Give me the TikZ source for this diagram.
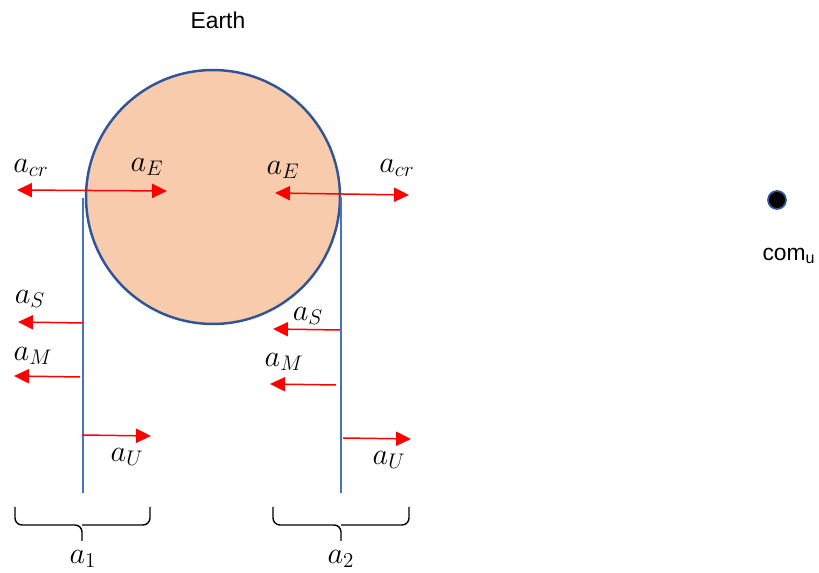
\documentclass[tikz,border=0pt]{standalone}
\usepackage{fontspec}
\setmainfont{Liberation Sans}
\usetikzlibrary{arrows.meta}
\definecolor{redarr}{HTML}{FF0000}
\definecolor{vline}{HTML}{4472C4}
\definecolor{edge}{HTML}{2F5597}
\definecolor{peach}{HTML}{F8CBAD}
\tikzset{
  acc/.style={draw=redarr, line width=0.85pt, -{Triangle[length=8.5pt,width=8pt]}},
  dacc/.style={draw=redarr, line width=0.85pt, {Triangle[length=8.5pt,width=8pt]}-{Triangle[length=8.5pt,width=8pt]}},
  mlab/.style={inner sep=0pt, font=\fontsize{17}{20}\selectfont},
  slab/.style={inner sep=0pt, font=\fontsize{13}{16}\selectfont},
  vl/.style={draw=vline, line width=0.65pt},
  brc/.style={draw=black, line width=0.8pt, rounded corners=4pt}
}
\begin{document}
\begin{tikzpicture}[x=0.02cm, y=-0.02cm]
\useasboundingbox (0,0) rectangle (819,573);
% Earth
\node[circle, draw=edge, fill=peach, line width=1.4pt, minimum size=5.08cm, inner sep=0pt] (earth) at (213,197) {};
\node[slab] (earthlab) at (218,20) {Earth};
% centre of mass
\node[circle, draw=edge, fill=black, line width=1pt, minimum size=0.36cm, inner sep=0pt] (comu) at (777,200) {};
\node[slab] (comlab) at (789,256) {com\textsubscript{u}};
% vertical lines
\coordinate (l1t) at (83,198); \coordinate (l1b) at (83,493);
\coordinate (l2t) at (341,197); \coordinate (l2b) at (341,493);
\draw[vl] (l1t) -- (l1b);
\draw[vl] (l2t) -- (l2b);
% top double arrows
\coordinate (la) at (17,190); \coordinate (lb) at (167,191);
\coordinate (ra) at (275,193); \coordinate (rb) at (409,195);
\draw[dacc] (la) -- (lb);
\draw[dacc] (ra) -- (rb);
\node[mlab] (acr1) at (31,168) {$a_{cr}$};
\node[mlab] (ae1) at (147,167) {$a_E$};
\node[mlab] (ae2) at (283,170) {$a_E$};
\node[mlab] (acr2) at (397,168) {$a_{cr}$};
% left column arrows
\coordinate (s1a) at (83,323); \coordinate (s1b) at (18,322);
\coordinate (m1a) at (80,377); \coordinate (m1b) at (14,376);
\coordinate (u1a) at (82,435); \coordinate (u1b) at (151,436);
\draw[acc] (s1a) -- (s1b);
\draw[acc] (m1a) -- (m1b);
\draw[acc] (u1a) -- (u1b);
\node[mlab] (as1) at (30,299) {$a_S$};
\node[mlab] (am1) at (33,356) {$a_M$};
\node[mlab] (au1) at (127,457) {$a_U$};
% right column arrows
\coordinate (s2a) at (340,330); \coordinate (s2b) at (273,329);
\coordinate (m2a) at (336,385); \coordinate (m2b) at (270,384);
\coordinate (u2a) at (343,438); \coordinate (u2b) at (411,439);
\draw[acc] (s2a) -- (s2b);
\draw[acc] (m2a) -- (m2b);
\draw[acc] (u2a) -- (u2b);
\node[mlab] (as2) at (308,316) {$a_S$};
\node[mlab] (am2) at (284,362) {$a_M$};
\node[mlab] (au2) at (389,460) {$a_U$};
% braces
\coordinate (b1l) at (15,507); \coordinate (b1r) at (150,507); \coordinate (b1m) at (82,525); \coordinate (b1t) at (82,541);
\coordinate (b2l) at (273,507); \coordinate (b2r) at (409,507); \coordinate (b2m) at (341,525); \coordinate (b2t) at (341,541);
\draw[brc] (b1l) |- (b1m) -- (b1t);
\draw[brc] (b1r) |- (b1m);
\draw[brc] (b2l) |- (b2m) -- (b2t);
\draw[brc] (b2r) |- (b2m);
\node[mlab] (a1) at (83,559) {$a_1$};
\node[mlab] (a2) at (341,559) {$a_2$};
\end{tikzpicture}
\end{document}
